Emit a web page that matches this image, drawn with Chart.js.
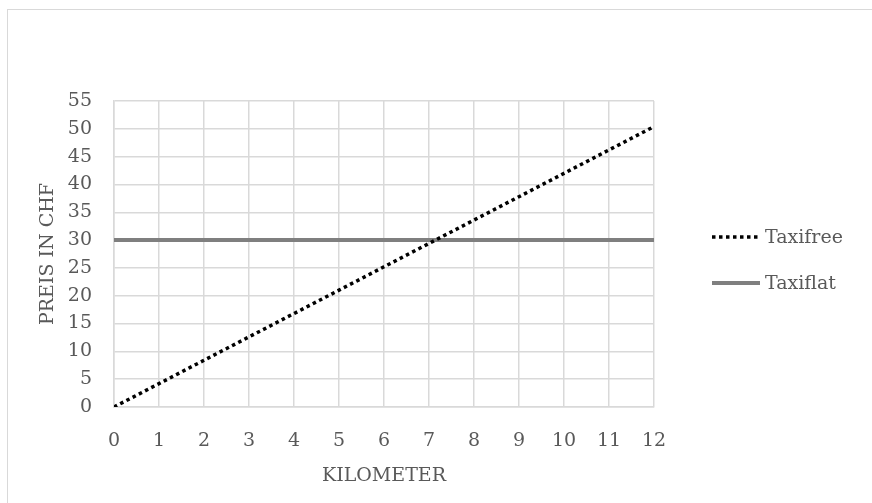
<!DOCTYPE html>
<html>
<head>
<meta charset="utf-8">
<script src="https://cdn.jsdelivr.net/npm/chart.js@4.4.0/dist/chart.umd.min.js"></script>
<style>
  html, body { margin: 0; padding: 0; background: #ffffff; overflow: hidden; }
  #frame { position: absolute; left: 7px; top: 9px; width: 900px; height: 520px; border: 1.5px solid #d9d9d9; box-sizing: border-box; }
  #wrap { position: absolute; left: 0; top: 0; width: 872px; height: 503px; }
</style>
</head>
<body>
<div id="frame"></div>
<div id="wrap"><canvas id="c" width="872" height="503"></canvas></div>
<script>
const kilometer = [0, 1, 2, 3, 4, 5, 6, 7, 8, 9, 10, 11, 12];
const taxifree  = [0, 4.2, 8.4, 12.6, 16.8, 21, 25.2, 29.4, 33.6, 37.8, 42, 46.2, 50.4];
const taxiflat  = [30, 30, 30, 30, 30, 30, 30, 30, 30, 30, 30, 30, 30];
const seriesNames = ['Taxifree', 'Taxiflat'];
const xTitle = 'KILOMETER';
const yTitle = 'PREIS IN CHF';

const FONT = 'DejaVu Serif';
const TXT = '#595959';
const GRID = '#d9d9d9';

const legendPlugin = {
  id: 'sideLegend',
  afterDraw(chart) {
    const ctx = chart.ctx;
    const rows = [237, 283];
    ctx.save();
    chart.data.datasets.forEach((ds, i) => {
      const y = rows[i];
      ctx.beginPath();
      ctx.strokeStyle = ds.borderColor;
      ctx.lineWidth = ds.borderWidth;
      ctx.setLineDash(ds.borderDash || []);
      ctx.lineCap = 'butt';
      ctx.moveTo(712, y);
      ctx.lineTo(760, y);
      ctx.stroke();
      ctx.setLineDash([]);
      ctx.fillStyle = TXT;
      ctx.font = '19px "' + FONT + '"';
      ctx.textAlign = 'left';
      ctx.textBaseline = 'middle';
      ctx.fillText(ds.label, 765, y + 1);
    });
    ctx.restore();
  }
};

new Chart(document.getElementById('c'), {
  type: 'line',
  data: {
    datasets: [
      {
        label: seriesNames[0],
        data: kilometer.map((x, i) => ({ x: x, y: taxifree[i] })),
        borderColor: '#000000',
        borderWidth: 3.5,
        borderDash: [3.5, 3.5],
        pointRadius: 0,
        fill: false,
        tension: 0
      },
      {
        label: seriesNames[1],
        data: kilometer.map((x, i) => ({ x: x, y: taxiflat[i] })),
        borderColor: '#7f7f7f',
        borderWidth: 4,
        pointRadius: 0,
        fill: false,
        tension: 0
      }
    ]
  },
  options: {
    responsive: false,
    animation: false,
    devicePixelRatio: 1,
    layout: { padding: { left: 37, top: 101, right: 218, bottom: 0 } },
    plugins: { legend: { display: false }, tooltip: { enabled: false } },
    scales: {
      x: {
        type: 'linear',
        min: 0, max: 12,
        ticks: { stepSize: 1, color: TXT, font: { family: FONT, size: 19 }, padding: 23, maxRotation: 0 },
        grid: { color: GRID, lineWidth: 1.5, drawTicks: false },
        border: { color: GRID, width: 1.5 },
        title: { display: true, text: xTitle, color: TXT, font: { family: FONT, size: 19 }, padding: { top: 0, bottom: 16 } },
        afterFit(s) { s.height = 96; }
      },
      y: {
        type: 'linear',
        min: 0, max: 55,
        ticks: { stepSize: 5, color: TXT, font: { family: FONT, size: 19 }, padding: 22 },
        grid: { color: GRID, lineWidth: 1.5, drawTicks: false },
        border: { color: GRID, width: 1.5 },
        title: { display: true, text: yTitle, color: TXT, font: { family: FONT, size: 19 }, padding: { top: 0, bottom: 0 } },
        afterFit(s) { s.width = 77; }
      }
    }
  },
  plugins: [legendPlugin]
});
</script>
</body>
</html>
